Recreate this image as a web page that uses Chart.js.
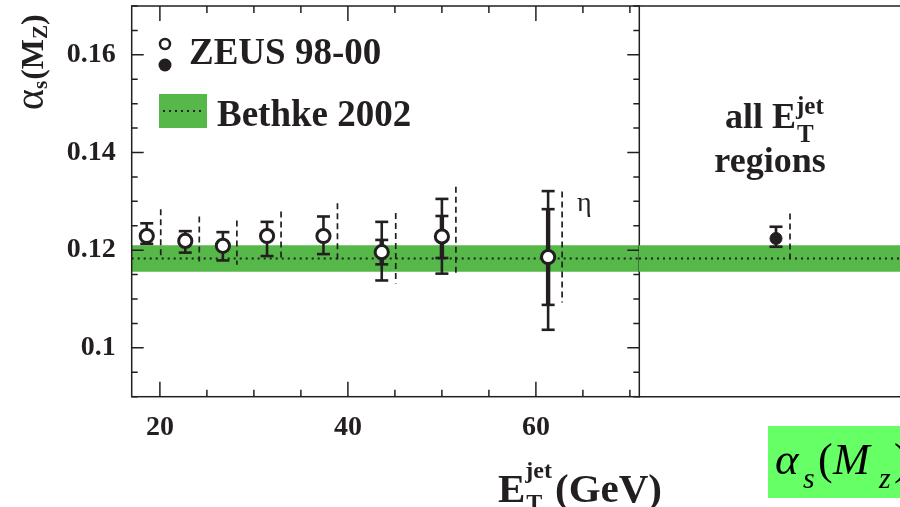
<!DOCTYPE html>
<html>
<head>
<meta charset="utf-8">
<script src="https://cdn.jsdelivr.net/npm/chart.js@4.4.1/dist/chart.umd.min.js"></script>
<style>
  html, body { margin: 0; padding: 0; background: #fff; overflow: hidden; }
  #wrap { position: relative; width: 900px; height: 507px; overflow: hidden; }
  #left { position: absolute; left: 0; top: 0; }
  #right { position: absolute; left: 639px; top: 0; }
</style>
</head>
<body>
<div id="wrap">
  <canvas id="left" width="900" height="507"></canvas>
  <canvas id="right" width="274" height="507"></canvas>
</div>
<script>
// ZEUS 98-00, alpha_s(M_Z) in bins of E_T^jet (GeV)
const etJet    = [18.6, 22.7, 26.7, 31.4, 37.4, 43.6, 50.0, 61.3];
const alphaS   = [0.1229, 0.1219, 0.1209, 0.1229, 0.1229, 0.1196, 0.1228, 0.1186];
const totUp    = [0.0026, 0.0020, 0.0028, 0.0029, 0.0040, 0.0062, 0.0077, 0.0135];
const totDown  = [0.0016, 0.0024, 0.0030, 0.0041, 0.0037, 0.0058, 0.0076, 0.0149];
const statUp   = [null, null, null, null, null, 0.0025, 0.0042, 0.0098];
const statDown = [null, null, null, null, null, 0.0025, 0.0044, 0.0098];
const thUp     = [0.0055, 0.0050, 0.0052, 0.0050, 0.0067, 0.0080, 0.0102, 0.0134];
const thDown   = [0.0042, 0.0042, 0.0039, 0.0048, 0.0053, 0.0064, 0.0075, 0.0093];

// combined value from all E_T^jet regions
const allLabel  = 'all';
const allAlpha  = [0.1224];
const allUp     = [0.0024];
const allDown   = [0.0017];
const allThUp   = [0.0051];
const allThDown = [0.0041];

// world average band
const bethke    = 0.1183;
const bethkeErr = 0.0027;

const xMin = 17, xMax = 71;
const yMin = 0.09, yMax = 0.17;

const FONT = '"Liberation Serif", "Times New Roman", serif';
const INK = '#231f20';
const BAND = '#55b849';

const errorBars = {
  id: 'errorBars',
  beforeDatasetDraw(chart, args, o) {
    if (args.index !== 0) return;
    const ctx = chart.ctx, ys = chart.scales.y;
    const pts = chart.getDatasetMeta(0).data;
    const vals = chart.data.datasets[0].data;
    const seg = (x1, y1, x2, y2) => { ctx.beginPath(); ctx.moveTo(x1, y1); ctx.lineTo(x2, y2); ctx.stroke(); };
    const cap = (x, y) => seg(x - 6.5, y, x + 6.5, y);
    ctx.save();
    ctx.strokeStyle = INK;
    pts.forEach((p, i) => {
      const v = vals[i].y, px = p.x;
      const top = ys.getPixelForValue(v + o.up[i]);
      const bot = ys.getPixelForValue(v - o.down[i]);
      ctx.setLineDash([]);
      ctx.lineWidth = 2.6;
      seg(px, top, px, bot); cap(px, top); cap(px, bot);
      if (o.statUp && o.statUp[i] != null) {
        const st = ys.getPixelForValue(v + o.statUp[i]);
        const sb = ys.getPixelForValue(v - o.statDown[i]);
        ctx.lineWidth = 4.4; seg(px, st, px, sb);
        ctx.lineWidth = 2.6; cap(px, st); cap(px, sb);
      }
      ctx.lineWidth = 1.7;
      ctx.setLineDash([6, 4]);
      seg(px + 14, ys.getPixelForValue(v + o.thUp[i]), px + 14, ys.getPixelForValue(v - o.thDown[i]));
    });
    ctx.restore();
  }
};

function supSub(ctx, x, base, main, sup, sub, big, small, supDy, subDy) {
  ctx.font = 'bold ' + big + 'px ' + FONT;
  ctx.fillText(main, x, base);
  x += ctx.measureText(main).width;
  ctx.font = 'bold ' + small + 'px ' + FONT;
  ctx.fillText(sup, x, base - supDy);
  ctx.fillText(sub, x + 1, base + subDy);
  return x + Math.max(ctx.measureText(sup).width, ctx.measureText(sub).width);
}

const leftDecor = {
  id: 'leftDecor',
  afterDraw(chart) {
    const { ctx, chartArea: a, scales: { x, y } } = chart;
    ctx.save();
    ctx.strokeStyle = INK;
    ctx.lineWidth = 1.5;
    ctx.beginPath();
    y.ticks.forEach(t => {
      const py = y.getPixelForValue(t.value);
      const L = t.label ? 12 : 6;
      ctx.moveTo(a.left, py); ctx.lineTo(a.left + L, py);
      ctx.moveTo(a.right, py); ctx.lineTo(a.right - L, py);
    });
    x.ticks.forEach(t => {
      const px = x.getPixelForValue(t.value);
      const L = t.label ? 15 : 7;
      ctx.moveTo(px, a.bottom); ctx.lineTo(px, a.bottom - L);
      ctx.moveTo(px, a.top); ctx.lineTo(px, a.top + L);
    });
    ctx.stroke();
    ctx.strokeRect(a.left, a.top, a.right - a.left, a.bottom - a.top);

    ctx.fillStyle = INK;
    ctx.textAlign = 'left';
    ctx.textBaseline = 'alphabetic';

    // y title
    ctx.save();
    ctx.translate(43, 110);
    ctx.rotate(-Math.PI / 2);
    let cx = 0;
    ctx.font = '40px ' + FONT;
    ctx.fillText('\u03b1', cx, 0); cx += ctx.measureText('\u03b1').width;
    ctx.font = 'bold 21px ' + FONT;
    ctx.fillText('s', cx, 4); cx += ctx.measureText('s').width + 1;
    ctx.font = 'bold 32px ' + FONT;
    ctx.fillText('(M', cx, 0); cx += ctx.measureText('(M').width;
    ctx.font = 'bold 21px ' + FONT;
    ctx.fillText('Z', cx, 4); cx += ctx.measureText('Z').width;
    ctx.font = 'bold 32px ' + FONT;
    ctx.fillText(')', cx, 0);
    ctx.restore();

    // x title
    const ex = supSub(ctx, 498, 502, 'E', 'jet', 'T', 41, 24, 24, 8);
    ctx.font = 'bold 41px ' + FONT;
    ctx.fillText('(GeV)', ex + 3, 502);

    // legend
    ctx.lineWidth = 2.5;
    ctx.beginPath(); ctx.arc(165, 44, 5, 0, 2 * Math.PI); ctx.stroke();
    ctx.beginPath(); ctx.arc(165, 65, 6.5, 0, 2 * Math.PI); ctx.fill();
    ctx.font = 'bold 37px ' + FONT;
    ctx.fillText('ZEUS 98-00', 189, 64);
    ctx.fillStyle = BAND;
    ctx.fillRect(159, 94, 48, 34);
    ctx.strokeStyle = INK;
    ctx.lineWidth = 2;
    ctx.setLineDash([2, 4]);
    ctx.beginPath(); ctx.moveTo(163, 111); ctx.lineTo(204, 111); ctx.stroke();
    ctx.setLineDash([]);
    ctx.fillStyle = INK;
    ctx.fillText('Bethke 2002', 217, 126);

    // eta label
    ctx.font = '28px ' + FONT;
    ctx.fillText('\u03b7', 577, 211);

    // formula box
    ctx.fillStyle = '#66ff66';
    ctx.fillRect(768, 426, 140, 72);
    ctx.fillStyle = '#000';
    ctx.font = 'italic 45px ' + FONT;
    ctx.fillText('\u03b1', 775, 474);
    ctx.font = 'italic 30px ' + FONT;
    ctx.fillText('s', 803, 488);
    ctx.font = '44px ' + FONT;
    ctx.fillText('(', 818, 474);
    ctx.font = 'italic 44px ' + FONT;
    ctx.fillText('M', 833, 474);
    ctx.font = 'italic 30px ' + FONT;
    ctx.fillText('z', 879, 488);
    ctx.font = '44px ' + FONT;
    ctx.fillText(')', 894, 474);
    ctx.restore();
  }
};

const rightDecor = {
  id: 'rightDecor',
  afterDraw(chart) {
    const { ctx, chartArea: a } = chart;
    ctx.save();
    ctx.strokeStyle = INK;
    ctx.lineWidth = 1.5;
    ctx.beginPath();
    ctx.moveTo(a.left, a.top); ctx.lineTo(a.right, a.top);
    ctx.moveTo(a.left, a.bottom); ctx.lineTo(a.right, a.bottom);
    ctx.stroke();
    ctx.fillStyle = INK;
    ctx.textBaseline = 'alphabetic';
    ctx.textAlign = 'left';
    ctx.font = 'bold 36px ' + FONT;
    const x0 = 725 - 639;
    ctx.fillText('all ', x0, 128);
    const ex = x0 + ctx.measureText('all ').width;
    supSub(ctx, ex, 128, 'E', 'jet', 'T', 36, 25, 14, 14);
    ctx.textAlign = 'center';
    ctx.font = 'bold 36px ' + FONT;
    ctx.fillText('regions', 770 - 639, 172);
    ctx.restore();
  }
};

const tickFont = { family: FONT, size: 28, weight: 'bold' };

new Chart(document.getElementById('left'), {
  type: 'scatter',
  data: {
    datasets: [
      {
        label: 'ZEUS 98-00',
        data: etJet.map((e, i) => ({ x: e, y: alphaS[i] })),
        pointRadius: 6.6,
        pointBorderWidth: 3,
        pointBackgroundColor: '#fff',
        pointBorderColor: INK,
        order: 0
      },
      {
        type: 'line', label: 'band hi',
        data: [{ x: xMin, y: bethke + bethkeErr }, { x: xMax, y: bethke + bethkeErr }],
        borderWidth: 0, pointRadius: 0, fill: '+1', backgroundColor: BAND, order: 2
      },
      {
        type: 'line', label: 'band lo',
        data: [{ x: xMin, y: bethke - bethkeErr }, { x: xMax, y: bethke - bethkeErr }],
        borderWidth: 0, pointRadius: 0, fill: false, order: 2
      },
      {
        type: 'line', label: 'Bethke 2002',
        data: [{ x: xMin, y: bethke }, { x: xMax, y: bethke }],
        borderWidth: 2, borderColor: INK, borderDash: [2, 4], pointRadius: 0, fill: false, order: 1
      }
    ]
  },
  options: {
    responsive: false,
    animation: false,
    events: [],
    layout: { autoPadding: false, padding: { top: 6, right: 260.7, left: 0, bottom: 0 } },
    plugins: {
      legend: { display: false },
      tooltip: { enabled: false },
      errorBars: { up: totUp, down: totDown, statUp: statUp, statDown: statDown, thUp: thUp, thDown: thDown }
    },
    scales: {
      x: {
        type: 'linear', min: xMin, max: xMax,
        grid: { display: false, drawTicks: false },
        border: { display: false },
        ticks: {
          stepSize: 5, maxTicksLimit: 100, includeBounds: false, autoSkip: false, maxRotation: 0,
          padding: 14, color: INK, font: tickFont,
          callback: v => (v % 20 === 0 ? String(v) : '')
        },
        afterFit: s => { s.height = 110.3; s.paddingLeft = 0; s.paddingRight = 0; }
      },
      y: {
        min: yMin, max: yMax,
        grid: { display: false, drawTicks: false },
        border: { display: false },
        ticks: {
          stepSize: 0.005, maxTicksLimit: 100, includeBounds: false, autoSkip: false,
          padding: 16, color: INK, font: tickFont,
          callback: v => { const m = Math.round(v * 1000); return m % 20 === 0 ? String(m / 1000) : ''; }
        },
        afterFit: s => { s.width = 131.7; s.paddingTop = 0; s.paddingBottom = 0; }
      }
    }
  },
  plugins: [errorBars, leftDecor]
});

new Chart(document.getElementById('right'), {
  type: 'line',
  data: {
    labels: ['', allLabel, ' '],
    datasets: [
      {
        label: 'all regions',
        data: [{ x: allLabel, y: allAlpha[0] }],
        showLine: false,
        pointRadius: 6,
        pointBorderWidth: 1,
        pointBackgroundColor: INK,
        pointBorderColor: INK,
        order: 0
      },
      {
        label: 'band hi',
        data: [bethke + bethkeErr, bethke + bethkeErr, bethke + bethkeErr],
        borderWidth: 0, pointRadius: 0, fill: '+1', backgroundColor: BAND, order: 2
      },
      {
        label: 'band lo',
        data: [bethke - bethkeErr, bethke - bethkeErr, bethke - bethkeErr],
        borderWidth: 0, pointRadius: 0, fill: false, order: 2
      },
      {
        label: 'Bethke 2002',
        data: [bethke, bethke, bethke],
        borderWidth: 2, borderColor: INK, borderDash: [2, 4], pointRadius: 0, fill: false, order: 1
      }
    ]
  },
  options: {
    responsive: false,
    animation: false,
    events: [],
    layout: { autoPadding: false, padding: { top: 6, right: 0, left: 0, bottom: 110.3 } },
    plugins: {
      legend: { display: false },
      tooltip: { enabled: false },
      errorBars: { up: allUp, down: allDown, thUp: allThUp, thDown: allThDown }
    },
    scales: {
      x: { type: 'category', offset: false, display: false },
      y: { min: yMin, max: yMax, display: false }
    }
  },
  plugins: [errorBars, rightDecor]
});
</script>
</body>
</html>
